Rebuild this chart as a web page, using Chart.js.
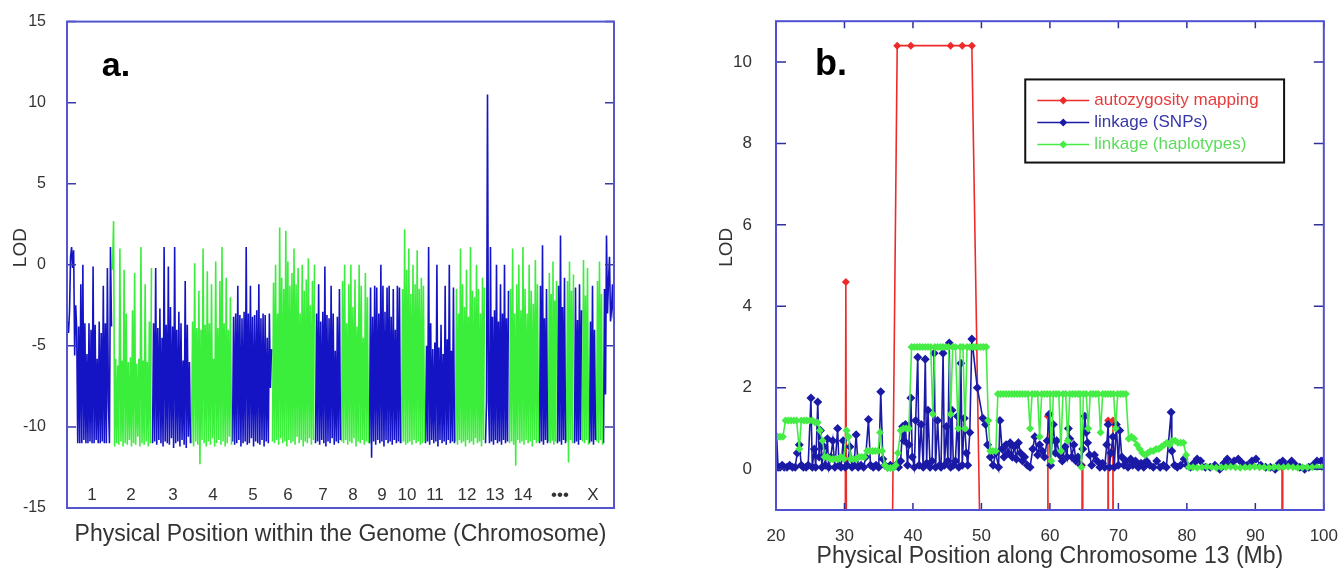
<!DOCTYPE html>
<html>
<head>
<meta charset="utf-8">
<script src="https://cdn.jsdelivr.net/npm/chart.js@4.4.0/dist/chart.umd.min.js"></script>
<style>
body { margin: 0; background: #fff; width: 1339px; height: 570px; overflow: hidden; position: relative; }
#chartA { position: absolute; left: 0; top: -1px; }
#chartB { position: absolute; left: 670px; top: -5px; }
</style>
</head>
<body>
<canvas id="chartA" width="660" height="571"></canvas>
<canvas id="chartB" width="676" height="575"></canvas>
<script>
// ---------- panel a : genome wide LOD ----------
// chromosome borders along the genome axis (arbitrary position units)
var chromBounds = [0, 45, 85, 124, 165, 205, 248, 274, 302, 334, 358, 388, 418, 442, 472, 481, 490, 499, 507, 515, 522, 529, 536, 547];
var chromNames = ['1', '2', '3', '4', '5', '6', '7', '8', '9', '10', '11', '12', '13', '14', '\u2022\u2022\u2022', 'X'];
var chromNamePos = [25, 64, 106, 146, 186, 221, 256, 286, 315, 340, 368, 400, 428, 456, 493, 526];
var lodTicksA = [-15, -10, -5, 0, 5, 10, 15];

var lodChr1 = [-3.5, -4.2, -2.8, 0.5, 1.1, -0.2, 0.9, -5.6, -2.5, -4.0, -11.0, -3.8, -11.0, -1.2, -11.0, 0.0, -10.8, -3.6, -11.0, -5.5, -11.0, -3.6, -10.9, -4.0, -11.0, -0.1, -11.0, -3.7, -10.8, -5.8, -11.0, -3.5, -11.0, -4.2, -10.9, -1.3, -11.0, -3.6, -11.0, -0.2, -8.5, -11.0, 1.1, -3.8];
var lodChr2 = [-0.3, 2.7, -11.2, -5.8, -11.0, -6.2, -11.1, 1.0, -10.9, -5.9, -11.2, -0.3, -11.0, -3.0, -11.1, -6.0, -10.8, -5.7, -11.2, -2.8, -11.0, -0.5, -11.1, -6.1, -10.6, -5.8, -11.2, 1.1, -11.0, -5.9, -11.1, -1.2, -10.9, -6.0, -11.2, -3.5, -11.0, -0.2];
var lodChr3 = [-11.0, -3.6, -10.9, -0.2, -11.1, -3.9, -10.8, -2.7, -11.0, -4.5, -11.2, 1.1, -10.9, -3.7, -11.0, -0.1, -11.1, -2.6, -10.7, -3.8, -11.3, 1.1, -11.0, -4.0, -10.9, -2.9, -11.2, -3.6, -10.8, -5.9, -11.1, -1.0, -11.3, -3.7, -10.6, -6.0, -11.0];
var lodChr4 = [-11.0, -3.5, -11.2, 0.1, -10.9, -3.9, -11.1, -1.6, -12.3, -4.0, -10.8, 1.0, -11.0, -3.7, -11.2, -0.4, -10.9, -3.6, -11.1, -1.2, -10.7, -5.8, -11.2, 0.2, -11.0, -3.9, -10.8, -1.0, -11.1, 1.1, -10.9, -3.6, -11.2, -0.8, -11.0, -4.0, -10.6, -2.0, -11.1];
var lodChr5 = [-10.9, -3.2, -11.1, -3.0, -11.0, -1.3, -10.8, -3.1, -11.2, -3.3, -11.0, -2.9, -10.9, 1.1, -11.1, -3.0, -11.0, -1.3, -10.7, -3.2, -11.2, -3.1, -10.9, -2.8, -11.0, -1.2, -11.1, -3.3, -10.8, -3.0, -11.2, -3.1, -10.9, -4.5, -11.0, -3.0, -7.6, -5.2];
var lodChr6 = [-10.9, -1.1, -11.0, 0.0, -10.8, -3.0, -11.1, 2.3, -10.7, -0.8, -11.0, -1.5, -10.9, 2.1, -11.2, 0.2, -10.8, -1.3, -11.0, -0.5, -10.9, 1.0, -11.1, -1.2, -10.6, -0.2, -11.0, -3.0, -10.8, 0.0, -11.2, -1.6, -10.9, -0.9, -11.0, 0.4, -10.7, -2.5, -11.1, -1.0, -10.8, 0.0];
var lodChr7 = [-11.0, -3.0, -10.9, -1.2, -11.1, -3.5, -10.8, -2.9, -11.0, -0.1, -11.2, -3.1, -10.9, -3.3, -11.0, -1.3, -10.7, -3.0, -11.1, -5.3, -10.9, -3.2, -11.0, -1.5, -10.8];
var lodChr8 = [-10.9, -1.0, -11.0, 0.0, -10.8, -3.6, -11.1, -1.2, -10.9, 0.0, -11.0, -2.6, -10.7, -0.9, -11.2, -3.8, -10.9, 0.0, -11.0, -1.3, -10.8, -4.5, -11.1, -0.5, -10.9, -2.0, -11.0];
var lodChr9 = [-11.0, -1.4, -11.9, -3.2, -10.9, -1.3, -11.1, -1.4, -10.8, -3.0, -11.0, 0.0, -10.9, -1.3, -11.2, -2.9, -10.8, -1.4, -11.0, -1.3, -10.9, -3.2, -11.1, -1.5, -10.8, -4.0, -11.0, -1.3, -10.9, -1.4, -11.0];
var lodChr10 = [-11.0, -1.5, -10.9, 2.2, -11.1, -0.3, -11.0, 1.0, -10.9, -1.8, -11.1, 0.0, -10.8, -1.2, -11.0, 0.9, -10.9, -1.5, -11.1, -0.8, -11.0, -1.3, -10.9];
var lodChr11 = [-11.0, -5.0, -10.9, 1.1, -11.1, -3.6, -10.8, -5.2, -11.0, -4.8, -10.9, 0.0, -11.2, -5.1, -10.8, -3.7, -11.0, -5.5, -10.9, -1.3, -11.1, -4.6, -10.8, 0.0, -11.0, -5.3, -10.9, -1.4, -11.0];
var lodChr12 = [-10.9, -1.5, -11.1, -3.0, -10.8, 1.0, -11.0, -1.2, -10.9, -2.6, -11.2, -0.3, -10.8, -3.2, -11.0, 1.1, -10.9, -1.6, -11.1, -2.0, -10.7, 0.0, -11.0, -1.5, -10.9, -3.0, -11.2, -0.8, -10.8, -1.4];
var lodChr13 = [-11.0, -8.5, 10.5, -8.4, -11.0, 1.1, -10.9, -3.2, -11.1, -2.8, -10.8, 0.0, -11.0, -3.5, -10.9, -1.2, -11.1, -3.0, -10.8, 0.0, -11.0, -3.3, -10.9, -1.6];
var lodChr14 = [-11.0, -1.5, -10.9, 1.0, -11.1, -3.0, -12.4, -1.2, -10.8, 0.0, -11.0, -2.8, -10.9, 1.1, -11.1, -1.5, -10.8, -3.0, -11.0, 0.0, -10.9, -1.6, -11.2, -2.4, -10.8, 0.3, -11.0, -1.2, -10.9];
var lodChr15 = [-11.0, -1.3, -10.9, 1.2, -11.1, -3.3, -10.8, -1.5, -11.0];
var lodChr16 = [-10.9, -0.5, -11.0, -1.8, -10.8, 0.2, -11.1, -2.2, -10.9, -1.0];
var lodChr17 = [-11.0, -1.3, -10.9, 1.8, -11.1, -2.6, -10.8, -0.8, -11.0];
var lodChr18 = [-10.9, -1.0, -12.2, 0.2, -10.8, -1.6, -11.0, -0.6];
var lodChr19 = [-11.0, -1.4, -10.9, -3.4, -11.1, -1.2, -10.8, -2.8];
var lodChr20 = [-10.9, 0.3, -11.0, -1.9, -10.8, -0.2, -11.1];
var lodChr21 = [-11.0, -3.5, -10.9, -1.3, -11.1, -4.0, -10.8];
var lodChr22 = [-10.9, -1.0, -11.0, 0.2, -10.8, -1.8, -11.1];
var lodChrX = [-11.0, -1.5, -8.0, 1.8, -3.0, -1.0, 0.5, -3.5, -2.8, -1.2, -3.3];

var lodByChrom = [lodChr1, lodChr2, lodChr3, lodChr4, lodChr5, lodChr6, lodChr7, lodChr8, lodChr9, lodChr10, lodChr11, lodChr12,
                  lodChr13, lodChr14, lodChr15, lodChr16, lodChr17, lodChr18, lodChr19, lodChr20, lodChr21, lodChr22, lodChrX];

// ---------- panel b : chromosome 13 ----------
var mbTicks = [20, 30, 40, 50, 60, 70, 80, 90, 100];
var lodTicksB = [0, 2, 4, 6, 8, 10];

// autozygosity mapping (values far below the axis run off the bottom)
var autoPos = [30.0, 30.2, 30.4, 36.5, 37.7, 39.7, 45.5, 47.2, 48.6, 50.6, 59.6, 59.7, 59.8, 64.6, 64.7, 64.8, 68.4, 68.5, 68.7, 69.1, 69.2, 69.4, 93.8, 93.9, 94.0];
var autoLod = [-10, 4.6, -10, -10, 10.4, 10.4, 10.4, 10.4, 10.4, -10, -10, 1.3, -10, -10, 0.1, -10, -10, 1.2, -10, -10, 1.2, -10, -10, 0.05, -10];

// linkage (SNPs)
var snpPos = [
  20.1, 20.3, 20.6, 20.9, 21.2, 21.6, 22.0, 22.4, 22.8, 23.1,
  23.4, 23.7, 24.0, 24.4, 24.7, 25.1, 25.3, 25.6, 25.8, 26.1,
  26.3, 26.5, 26.7, 27.0, 27.2, 27.5, 27.7, 28.0, 28.3, 28.6,
  29.0, 29.2, 29.5, 29.8, 30.1, 30.4, 30.8, 31.1, 31.4, 31.7,
  32.0, 32.4, 32.8, 33.1, 33.5, 33.8, 34.2, 34.6, 35.0, 35.3,
  35.6, 35.9, 36.3, 36.7, 37.1, 37.5, 37.9, 38.2, 38.5, 38.7,
  38.9, 39.2, 39.4, 39.7, 39.9, 40.2, 40.4, 40.7, 40.9, 41.2,
  41.5, 41.8, 42.0, 42.2, 42.5, 42.8, 43.1, 43.3, 43.6, 43.9,
  44.1, 44.4, 44.6, 44.9, 45.1, 45.3, 45.5, 45.7, 45.9, 46.2,
  46.5, 46.7, 47.0, 47.2, 47.5, 47.8, 48.0, 48.3, 48.6, 49.4,
  50.2, 50.6, 50.9, 51.3, 51.7, 52.1, 52.5, 52.7, 53.0, 53.3,
  53.6, 53.9, 54.2, 54.5, 54.8, 55.1, 55.4, 55.7, 56.0, 56.3,
  56.7, 57.1, 57.5, 57.8, 58.2, 58.5, 58.9, 59.2, 59.6, 59.9,
  60.1, 60.3, 60.5, 60.8, 61.0, 61.4, 61.8, 62.2, 62.5, 62.7,
  62.9, 63.2, 63.5, 63.8, 64.1, 64.5, 64.8, 65.1, 65.3, 65.5,
  65.8, 66.1, 66.5, 66.9, 67.3, 67.7, 68.0, 68.3, 68.5, 68.7,
  68.9, 69.2, 69.4, 69.7, 70.0, 70.2, 70.5, 70.8, 71.1, 71.4,
  71.8, 72.1, 72.5, 72.9, 73.3, 73.7, 74.1, 74.6, 75.1, 75.6,
  76.1, 76.6, 77.0, 77.7, 77.8, 78.2, 78.6, 79.1, 79.6, 80.0,
  80.5, 81.0, 81.5, 82.0, 82.7, 83.4, 84.1, 84.8, 85.4, 85.9,
  86.4, 86.9, 87.5, 88.1, 88.8, 89.5, 90.1, 90.8, 91.5, 92.2,
  92.9, 93.5, 94.0, 94.7, 95.3, 95.9, 96.5, 97.2, 97.8, 98.4,
  99.0, 99.6, 99.9
];
var snpLod = [
  0.8, 0.05, 0.05, 0.1, 0.05, 0.05, 0.1, 0.05, 0.05, 0.4,
  0.6, 0.1, 0.05, 0.05, 0.1, 1.75, 0.05, 0.5, 0.05, 1.65,
  0.3, 0.95, 0.05, 0.55, 0.1, 0.75, 0.05, 0.3, 0.7, 0.05,
  1.0, 0.1, 0.05, 0.7, 0.05, 0.1, 0.55, 0.05, 0.1, 0.85,
  0.05, 0.1, 0.05, 0.3, 1.22, 0.1, 0.05, 0.1, 0.05, 1.9,
  0.25, 0.1, 0.05, 0.1, 0.05, 0.1, 0.05, 0.2, 1.05, 0.7,
  1.1, 0.1, 0.6, 1.75, 0.3, 0.05, 1.2, 2.75, 0.1, 1.1,
  0.05, 2.7, 0.15, 1.45, 0.05, 0.2, 2.85, 0.05, 1.2, 0.1,
  0.05, 2.85, 0.1, 1.05, 0.2, 3.1, 0.05, 1.45, 0.1, 0.2,
  1.3, 0.05, 2.6, 0.1, 1.25, 0.4, 0.1, 0.9, 3.2, 2.0,
  1.25, 1.1, 0.6, 0.3, 0.1, 0.4, 0.05, 1.2, 0.5, 0.3,
  0.6, 0.4, 0.65, 0.3, 0.55, 0.25, 0.65, 0.4, 0.2, 0.3,
  0.1, 0.05, 0.5, 0.8, 0.35, 0.6, 0.45, 0.3, 0.7, 1.35,
  0.1, 0.7, 1.1, 0.4, 0.7, 0.35, 0.2, 0.55, 0.3, 1.0,
  0.75, 0.3, 0.6, 0.2, 0.3, 0.1, 0.5, 1.3, 0.9, 0.65,
  0.35, 0.1, 0.35, 0.2, 0.05, 0.15, 0.05, 0.6, 1.1, 0.05,
  0.4, 0.8, 0.05, 1.1, 0.1, 0.95, 0.3, 0.1, 0.2, 0.05,
  0.25, 0.1, 0.2, 0.05, 0.15, 0.05, 0.2, 0.1, 0.05, 0.2,
  0.05, 0.1, 0.05, 1.4, 0.45, 0.1, 0.05, 0.1, 0.25, 0.1,
  0.05, 0.15, 0.25, 0.2, 0.05, 0.05, 0.1, 0.0, 0.15, 0.25,
  0.1, 0.2, 0.25, 0.15, 0.1, 0.2, 0.25, 0.1, 0.05, 0.05,
  0.0, 0.15, 0.2, 0.1, 0.2, 0.1, 0.05, 0.0, 0.05, 0.1,
  0.2, 0.2, 0.2
];

// linkage (haplotypes)
var hapPos = [
  20.2, 20.6, 21.0, 21.4, 21.8, 22.2, 22.6, 23.0, 23.4, 23.7,
  24.1, 24.5, 24.9, 25.3, 25.7, 26.1, 26.4, 26.8, 27.1, 27.5,
  27.9, 28.3, 28.7, 29.1, 29.5, 29.9, 30.3, 30.6, 30.9, 31.3,
  31.7, 32.1, 32.5, 32.9, 33.3, 33.7, 34.1, 34.5, 34.9, 35.2,
  35.5, 35.9, 36.3, 36.7, 37.1, 37.5, 37.8, 38.2, 38.6, 39.0,
  39.4, 39.8, 40.2, 40.6, 41.0, 41.4, 41.8, 42.2, 42.6, 42.9,
  43.2, 43.6, 44.0, 44.4, 44.8, 45.2, 45.5, 45.8, 46.2, 46.6,
  46.9, 47.3, 47.6, 47.9, 48.3, 48.7, 49.1, 49.5, 49.9, 50.3,
  50.7, 51.0, 51.3, 51.7, 52.1, 52.4, 52.8, 53.2, 53.6, 54.0,
  54.4, 54.8, 55.2, 55.6, 56.0, 56.4, 56.8, 57.1, 57.4, 57.8,
  58.2, 58.5, 58.8, 59.2, 59.6, 60.0, 60.2, 60.5, 60.9, 61.3,
  61.6, 61.9, 62.3, 62.6, 62.9, 63.3, 63.7, 64.1, 64.4, 64.6,
  64.9, 65.3, 65.6, 65.9, 66.3, 66.7, 67.1, 67.4, 67.7, 68.1,
  68.5, 68.9, 69.3, 69.6, 69.9, 70.3, 70.7, 71.1, 71.5, 71.9,
  72.3, 72.7, 73.1, 73.5, 73.9, 74.3, 74.7, 75.1, 75.5, 75.9,
  76.3, 76.7, 77.1, 77.5, 77.9, 78.3, 78.7, 79.1, 79.5, 79.9,
  80.3, 80.9, 81.5, 82.2, 82.9, 83.6, 84.3, 85.0, 85.7, 86.4,
  87.1, 87.8, 88.5, 89.2, 89.9, 90.6, 91.3, 92.0, 92.7, 93.4,
  94.1, 94.8, 95.5, 96.2, 96.9, 97.6, 98.3, 99.0, 99.7
];
var hapLod = [
  0.8, 0.8, 0.8, 1.2, 1.2, 1.2, 1.2, 1.2, 0.5, 1.2,
  1.2, 1.2, 1.2, 1.2, 1.15, 1.15, 0.95, 0.7, 0.3, 0.3,
  0.25, 0.25, 0.25, 0.25, 0.3, 0.25, 0.95, 0.8, 0.25, 0.25,
  0.25, 0.3, 0.3, 0.3, 0.45, 0.45, 0.45, 0.45, 0.45, 0.9,
  0.45, 0.1, 0.03, 0.03, 0.03, 0.1, 0.4, 0.95, 1.0, 1.0,
  1.0, 3.0, 3.0, 3.0, 3.0, 3.0, 3.0, 3.0, 3.0, 1.35,
  3.0, 3.0, 3.0, 3.0, 3.0, 3.0, 1.35, 3.0, 3.0, 1.0,
  3.0, 3.0, 1.0, 3.0, 3.0, 3.0, 3.0, 3.0, 3.0, 3.0,
  3.0, 1.2, 0.45, 0.45, 0.45, 1.85, 1.85, 1.85, 1.85, 1.85,
  1.85, 1.85, 1.85, 1.85, 1.85, 1.85, 1.85, 1.0, 1.85, 1.85,
  1.85, 0.8, 1.85, 1.85, 1.85, 1.85, 0.2, 1.85, 1.85, 1.85,
  0.45, 1.85, 1.85, 0.7, 1.85, 1.85, 1.85, 1.85, 1.85, 0.05,
  1.85, 1.85, 1.0, 1.85, 1.85, 1.85, 1.85, 0.9, 1.85, 1.85,
  1.85, 1.85, 1.85, 1.0, 1.85, 1.85, 1.85, 1.85, 0.75, 0.8,
  0.75, 0.6, 0.5, 0.4, 0.35, 0.4, 0.45, 0.45, 0.5, 0.5,
  0.55, 0.6, 0.65, 0.6, 0.7, 0.7, 0.65, 0.65, 0.65, 0.35,
  0.05, 0.05, 0.04, 0.05, 0.06, 0.05, 0.04, 0.05, 0.05, 0.06,
  0.05, 0.04, 0.05, 0.05, 0.06, 0.05, 0.05, 0.04, 0.05, 0.05,
  0.05, 0.06, 0.05, 0.04, 0.05, 0.05, 0.05, 0.05, 0.05
];

var fontFamily = "'Liberation Sans', Arial, sans-serif";
var textColor = '#333333';
var blueA = '#1414c4', greenA = '#3cee3c';
var redB = '#ee2b2b', blueB = '#1a1aa6', greenB = '#46ec46';

function pairs(xs, ys) {
  return xs.map(function(x, i) { return {x: x, y: ys[i]}; });
}

// box round the plot with small inward ticks
var framePlugin = {
  id: 'frame',
  afterDatasetsDraw: function(chart, args, opts) {
    var a = chart.chartArea, ctx = chart.ctx;
    var xs = chart.scales.x, ys = chart.scales.y;
    ctx.save();
    ctx.strokeStyle = opts.tickColor;
    ctx.lineWidth = 1.5;
    ctx.beginPath();
    ys.ticks.forEach(function(t) {
      var py = ys.getPixelForValue(t.value);
      ctx.moveTo(a.left, py); ctx.lineTo(a.left + opts.len, py);
      ctx.moveTo(a.right, py); ctx.lineTo(a.right - opts.len, py);
    });
    if (opts.xTicks) {
      xs.ticks.forEach(function(t) {
        var px = xs.getPixelForValue(t.value);
        ctx.moveTo(px, a.top); ctx.lineTo(px, a.top + opts.lenX);
        ctx.moveTo(px, a.bottom); ctx.lineTo(px, a.bottom - opts.lenX);
      });
    }
    ctx.stroke();
    ctx.strokeStyle = opts.color;
    ctx.lineWidth = 2;
    ctx.strokeRect(a.left, a.top, a.right - a.left, a.bottom - a.top);
    ctx.restore();
  }
};

// panel letter, axis titles and the inside chromosome labels
var textPlugin = {
  id: 'panelText',
  afterDraw: function(chart, args, o) {
    var a = chart.chartArea, ctx = chart.ctx;
    ctx.save();
    ctx.textAlign = 'center';
    ctx.textBaseline = 'middle';
    ctx.fillStyle = '#000';
    ctx.font = 'bold ' + o.letterSize + 'px ' + fontFamily;
    ctx.fillText(o.letter, a.left + o.letterDx, a.top + o.letterDy);

    ctx.fillStyle = textColor;
    ctx.font = '23px ' + fontFamily;
    ctx.fillText(o.xTitle, (a.left + a.right) / 2, a.bottom + o.xTitleDy);

    ctx.save();
    ctx.translate(a.left + o.yTitleDx, a.top + 226);
    ctx.rotate(-Math.PI / 2);
    ctx.font = '19px ' + fontFamily;
    ctx.fillText('LOD', 0, 0);
    ctx.restore();

    if (o.chromLabels) {
      ctx.font = '17px ' + fontFamily;
      chromNames.forEach(function(n, i) {
        ctx.fillText(n, chart.scales.x.getPixelForValue(chromNamePos[i]), a.bottom - 13);
      });
    }
    ctx.restore();
  }
};

// framed legend drawn inside the plot of panel b
var legendPlugin = {
  id: 'legendBox',
  afterDraw: function(chart, args, o) {
    var xs = chart.scales.x, ys = chart.scales.y, ctx = chart.ctx;
    var l = xs.getPixelForValue(o.x0), r = xs.getPixelForValue(o.x1);
    var t = ys.getPixelForValue(o.y0), b = ys.getPixelForValue(o.y1);
    ctx.save();
    ctx.fillStyle = '#fff';
    ctx.fillRect(l, t, r - l, b - t);
    ctx.strokeStyle = '#111';
    ctx.lineWidth = 2;
    ctx.strokeRect(l, t, r - l, b - t);
    ctx.font = '17px ' + fontFamily;
    ctx.textBaseline = 'middle';
    ctx.textAlign = 'left';
    chart.data.datasets.forEach(function(ds, i) {
      var y = t + 21 + i * 22;
      ctx.strokeStyle = ds.borderColor;
      ctx.lineWidth = 1.5;
      ctx.beginPath(); ctx.moveTo(l + 12, y); ctx.lineTo(l + 64, y); ctx.stroke();
      ctx.fillStyle = ds.borderColor;
      ctx.beginPath();
      ctx.moveTo(l + 38, y - 4); ctx.lineTo(l + 42, y); ctx.lineTo(l + 38, y + 4); ctx.lineTo(l + 34, y);
      ctx.closePath(); ctx.fill();
      ctx.fillStyle = o.textColors[i];
      ctx.fillText(ds.label, l + 69, y);
    });
    ctx.restore();
  }
};

// ---------- chart a ----------
var datasetsA = lodByChrom.map(function(vals, c) {
  var start = chromBounds[c], end = chromBounds[c + 1];
  var step = (end - start) / vals.length;
  return {
    data: vals.map(function(v, i) { return {x: start + (i + 0.5) * step, y: v}; }),
    borderColor: c % 2 === 0 ? blueA : greenA,
    borderWidth: 1.6,
    pointRadius: 0,
    tension: 0
  };
});

new Chart(document.getElementById('chartA'), {
  type: 'line',
  data: { datasets: datasetsA },
  options: {
    responsive: false,
    animation: false,
    devicePixelRatio: 1,
    layout: { padding: { top: 15, right: 46, left: 0, bottom: 0 } },
    plugins: {
      legend: { display: false },
      tooltip: { enabled: false },
      frame: { color: '#5656cc', tickColor: '#3a3aa8', len: 9, xTicks: false },
      panelText: { letter: 'a.', letterSize: 34, letterDx: 49, letterDy: 45,
                   xTitle: 'Physical Position within the Genome (Chromosome)', xTitleDy: 27,
                   yTitleDx: -46, chromLabels: true }
    },
    scales: {
      x: {
        type: 'linear', min: 0, max: chromBounds[chromBounds.length - 1],
        ticks: { display: false }, grid: { display: false }, border: { display: false },
        afterFit: function(s) { s.height = 62; }
      },
      y: {
        min: -15, max: 15,
        afterBuildTicks: function(s) { s.ticks = lodTicksA.map(function(v) { return {value: v}; }); },
        ticks: { font: { family: fontFamily, size: 16 }, color: textColor, padding: 13 },
        grid: { display: false }, border: { display: false },
        afterFit: function(s) { s.width = 67; }
      }
    }
  },
  plugins: [framePlugin, textPlugin]
});

// ---------- chart b ----------
new Chart(document.getElementById('chartB'), {
  type: 'line',
  data: {
    datasets: [
      { label: 'autozygosity mapping', data: pairs(autoPos, autoLod), borderColor: redB, backgroundColor: redB,
        borderWidth: 1.6, pointStyle: 'rectRot', pointRadius: 4, pointBorderWidth: 0, order: 3 },
      { label: 'linkage (SNPs)', data: pairs(snpPos, snpLod), borderColor: blueB, backgroundColor: blueB,
        borderWidth: 1.6, pointStyle: 'rectRot', pointRadius: 4.5, pointBorderWidth: 0, order: 2 },
      { label: 'linkage (haplotypes)', data: pairs(hapPos, hapLod), borderColor: greenB, backgroundColor: greenB,
        borderWidth: 1.6, pointStyle: 'rectRot', pointRadius: 4, pointBorderWidth: 0, order: 1 }
    ]
  },
  options: {
    responsive: false,
    animation: false,
    devicePixelRatio: 1,
    layout: { padding: { top: 8, right: 3, left: 0, bottom: 0 } },
    plugins: {
      legend: { display: false },
      tooltip: { enabled: false },
      frame: { color: '#5050d0', tickColor: '#30309c', len: 10, lenX: 7, xTicks: true },
      panelText: { letter: 'b.', letterSize: 36, letterDx: 55, letterDy: 44,
                   xTitle: 'Physical Position along Chromosome 13 (Mb)', xTitleDy: 47,
                   yTitleDx: -49, chromLabels: false },
      legendBox: { x0: 56.4, x1: 94.2, y0: 9.57, y1: 7.53,
                   textColors: ['#e63c3c', '#3636a8', '#5cdc5c'] }
    },
    scales: {
      x: {
        type: 'linear', min: 20, max: 100,
        afterBuildTicks: function(s) { s.ticks = mbTicks.map(function(v) { return {value: v}; }); },
        ticks: { font: { family: fontFamily, size: 17 }, color: textColor, padding: 8, maxRotation: 0 },
        grid: { display: false }, border: { display: false },
        afterFit: function(s) { s.height = 60; }
      },
      y: {
        min: -1, max: 11,
        afterBuildTicks: function(s) { s.ticks = lodTicksB.map(function(v) { return {value: v}; }); },
        ticks: { font: { family: fontFamily, size: 17 }, color: textColor, padding: 16 },
        grid: { display: false }, border: { display: false },
        afterFit: function(s) { s.width = 106; }
      }
    }
  },
  plugins: [framePlugin, textPlugin, legendPlugin]
});
</script>
</body>
</html>
